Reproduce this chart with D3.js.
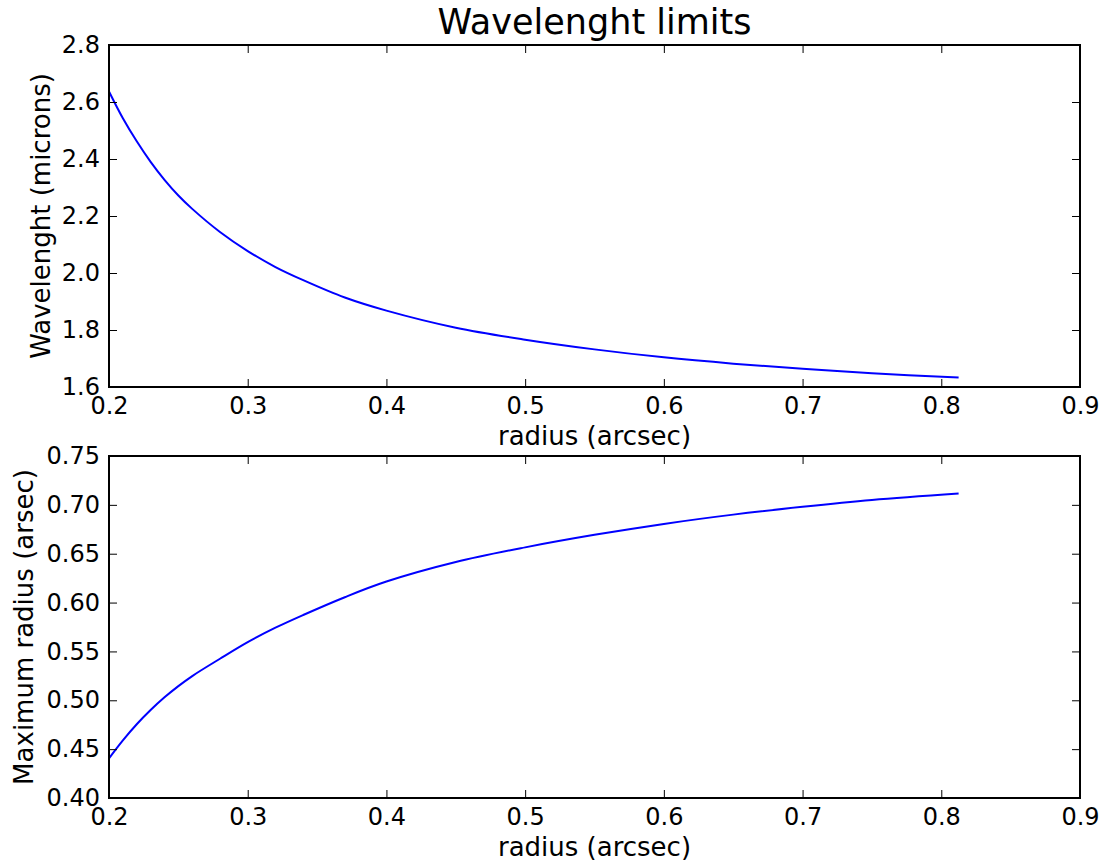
<!DOCTYPE html>
<html><head><meta charset="utf-8">
<script src="https://cdn.jsdelivr.net/npm/d3@7"></script>
<style>body{margin:0;background:#fff}svg{display:block}text{font-family:"DejaVu Sans",sans-serif;fill:#000}</style>
</head><body><svg id="c" width="1109" height="865"></svg>
<script>
const radius = [0.20,0.21,0.22,0.23,0.24,0.25,0.26,0.28,0.30,0.32,0.34,0.37,0.40,0.45,0.50,0.55,0.60,0.65,0.70,0.75,0.8125];
const wavelength = [2.637,2.543,2.462,2.390,2.327,2.272,2.225,2.144,2.077,2.021,1.975,1.914,1.868,1.808,1.766,1.732,1.704,1.682,1.664,1.648,1.633];
const maxRadius = [0.4406,0.4590,0.4755,0.4900,0.5030,0.5145,0.5248,0.5425,0.5595,0.5743,0.5873,0.6055,0.6215,0.6415,0.6565,0.6693,0.6805,0.6900,0.6980,0.7050,0.7116];
const xTicks = [0.2,0.3,0.4,0.5,0.6,0.7,0.8,0.9];
const yTicksTop = [1.6,1.8,2.0,2.2,2.4,2.6,2.8];
const yTicksBottom = [0.40,0.45,0.50,0.55,0.60,0.65,0.70,0.75];

const svg = d3.select("#c");
const L = 109, R = 1080;

function panel(top, bottom, yDomain, yTicks, yFmt, values, yLabel, yLabelX) {
  const x = d3.scaleLinear().domain([0.2,0.9]).range([L,R]);
  const y = d3.scaleLinear().domain(yDomain).range([bottom, top]);
  const g = svg.append("g");
  g.append("path").datum(radius.map((r,i)=>[r,values[i]]))
    .attr("fill","none").attr("stroke","#0000ff").attr("stroke-width",2)
    .attr("d", d3.line().x(d=>x(d[0])).y(d=>y(d[1])).curve(d3.curveCatmullRom.alpha(0.5)));
  const fmt1 = d3.format(".1f");
  const xb = g.append("g").attr("transform",`translate(0,${bottom})`)
    .call(d3.axisBottom(x).tickValues(xTicks).tickFormat(fmt1).tickSizeInner(-8).tickSizeOuter(0).tickPadding(10));
  const xt = g.append("g").attr("transform",`translate(0,${top})`)
    .call(d3.axisTop(x).tickValues(xTicks).tickFormat("").tickSizeInner(-8).tickSizeOuter(0));
  const yl = g.append("g").attr("transform",`translate(${L},0)`)
    .call(d3.axisLeft(y).tickValues(yTicks).tickFormat(yFmt).tickSizeInner(-8).tickSizeOuter(0).tickPadding(9));
  const yr = g.append("g").attr("transform",`translate(${R},0)`)
    .call(d3.axisRight(y).tickValues(yTicks).tickFormat("").tickSizeInner(-8).tickSizeOuter(0));
  [xb,xt,yl,yr].forEach(a=>{
    a.select(".domain").remove();
    a.selectAll(".tick line").attr("stroke","#000").attr("stroke-width",1);
    a.selectAll("text").attr("font-size",24).attr("font-family","DejaVu Sans").attr("fill","#000");
  });
  g.append("rect").attr("x",L).attr("y",top).attr("width",R-L).attr("height",bottom-top)
    .attr("fill","none").attr("stroke","#000").attr("stroke-width",2);
  g.append("text").attr("x",(L+R)/2).attr("y",bottom+58).attr("text-anchor","middle")
    .attr("font-size",26).text("radius (arcsec)");
  g.append("text").attr("transform",`translate(${yLabelX},${(top+bottom)/2}) rotate(-90)`)
    .attr("text-anchor","middle").attr("font-size",26).text(yLabel);
}

panel(45, 387, [1.6,2.8], yTicksTop, d3.format(".1f"), wavelength, "Wavelenght (microns)", 50);
panel(456, 798, [0.40,0.75], yTicksBottom, d3.format(".2f"), maxRadius, "Maximum radius (arsec)", 33);

svg.append("text").attr("x",(L+R)/2).attr("y",34).attr("text-anchor","middle")
  .attr("font-size",35).text("Wavelenght limits");
</script></body></html>
